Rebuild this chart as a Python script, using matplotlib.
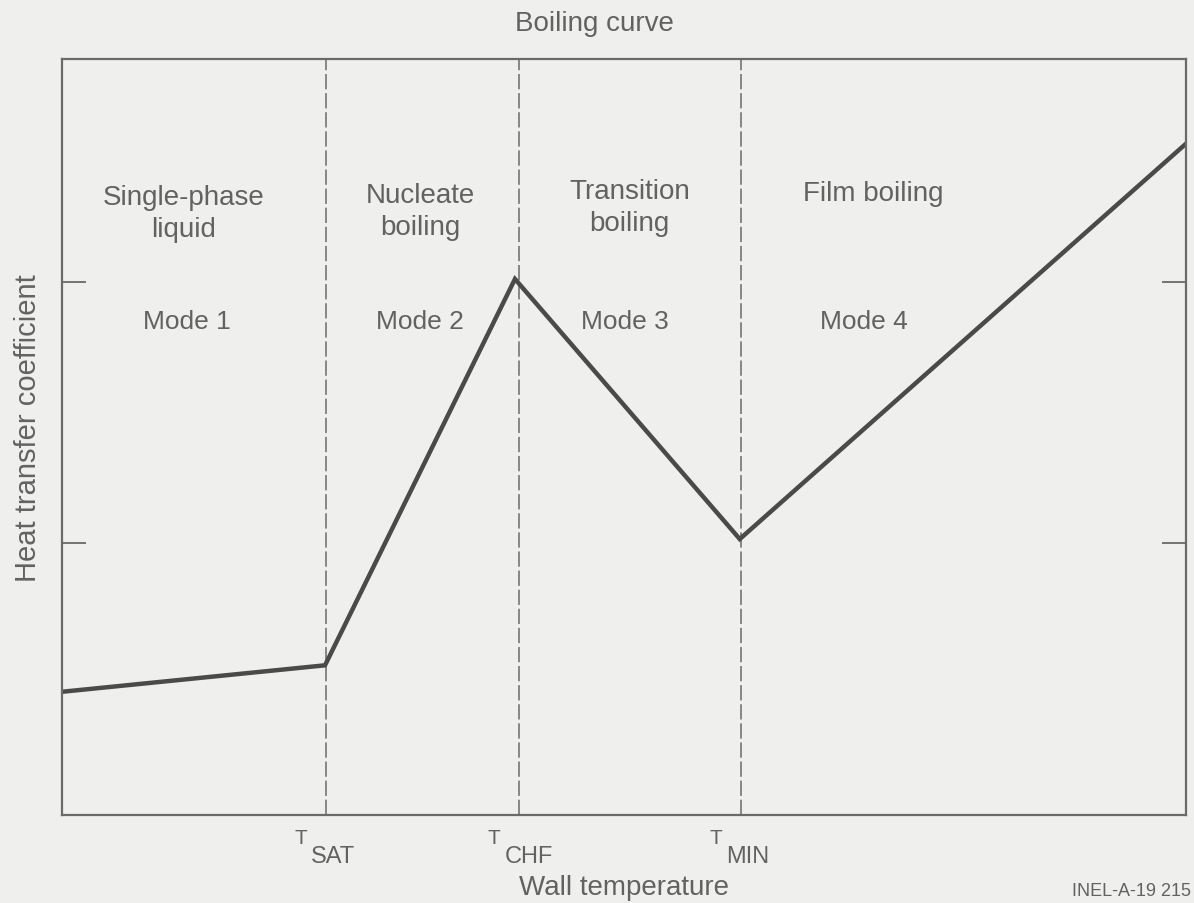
import matplotlib
matplotlib.use("Agg")
import matplotlib.pyplot as plt

# Regime boundaries on the wall-temperature axis (arbitrary units, 0-100)
boundary_names = ["SAT", "CHF", "MIN"]
boundary_x = [23.5, 40.7, 60.4]

# Piecewise boiling curve: wall temperature vs heat transfer coefficient
curve_x = [0.0, 23.4, 40.3, 60.3, 100.0]
curve_y = [16.3, 19.8, 70.9, 36.5, 88.8]

# Unlabelled reference ticks on the y axis
y_ticks = [70.5, 36.0]

regime_names = ["Single-phase\nliquid", "Nucleate\nboiling", "Transition\nboiling", "Film boiling"]
regime_x = [10.85, 31.9, 50.5, 72.2]
regime_top = [83.5, 83.7, 84.2, 84.0]
mode_labels = ["Mode 1", "Mode 2", "Mode 3", "Mode 4"]
mode_x = [11.1, 31.85, 50.1, 71.35]
mode_y = [65.3, 65.3, 65.3, 65.3]

plt.rcParams["font.family"] = ["Liberation Sans", "DejaVu Sans"]

bg = "#efefed"
ink = "#4a4a4a"
frame = "#6a6a6a"
text_c = "#626262"

W, H = 1194, 904
fig = plt.figure(figsize=(W / 100, H / 100), dpi=100, facecolor=bg)
ax = fig.add_axes([62 / W, 1 - 816 / H, 1124 / W, 756 / H])
ax.set_facecolor(bg)
ax.set_xlim(0, 100)
ax.set_ylim(0, 100)

for s in ax.spines.values():
    s.set_color(frame)
    s.set_linewidth(1.6)

for bx in boundary_x:
    ax.axvline(bx, color=frame, lw=1.1, dashes=(10, 2.5))

ax.plot(curve_x, curve_y, color=ink, lw=3.2, solid_joinstyle="miter")

for name, x, y in zip(regime_names, regime_x, regime_top):
    ax.text(x, y, name, ha="center", va="top", fontsize=20, color=text_c,
            linespacing=1.3)
for name, x, y in zip(mode_labels, mode_x, mode_y):
    ax.text(x, y, name, ha="center", va="center", fontsize=19, color=text_c)

# Temperature labels: raised "T" followed by a larger subscript name
ax.set_xticks(boundary_x)
ax.set_xticklabels([])
ax.tick_params(axis="x", length=0)
for name, bx in zip(boundary_names, boundary_x):
    ax.annotate("T", xy=(bx, 0), xycoords=("data", "axes fraction"),
                xytext=(-19, -28), textcoords="offset pixels",
                ha="right", va="baseline", fontsize=15, color=text_c)
    ax.annotate(name, xy=(bx, 0), xycoords=("data", "axes fraction"),
                xytext=(-15, -47), textcoords="offset pixels",
                ha="left", va="baseline", fontsize=17, color=text_c)

ax.set_yticks(y_ticks)
ax.set_yticklabels([])
ax.tick_params(axis="y", direction="in", length=17, width=1.3, color=frame,
               left=True, right=True)

ax.set_xlabel("Wall temperature", fontsize=20, color=text_c)
ax.xaxis.label.set_va("baseline")
ax.xaxis.set_label_coords(0.5, (816 - 895) / 756)

ax.set_ylabel("Heat transfer coefficient", fontsize=21, color=text_c)
ax.yaxis.label.set_va("center")
ax.yaxis.set_label_coords((28 - 62) / 1124, (816 - 428) / 756)

fig.text(594 / W, 1 - 31 / H, "Boiling curve", ha="center", va="baseline",
         fontsize=20, color=text_c)
fig.text(1131 / W, 1 - 896 / H, "INEL-A-19 215", ha="center", va="baseline",
         fontsize=13, color=text_c)

fig.savefig("out.png", dpi=100, facecolor=bg)
